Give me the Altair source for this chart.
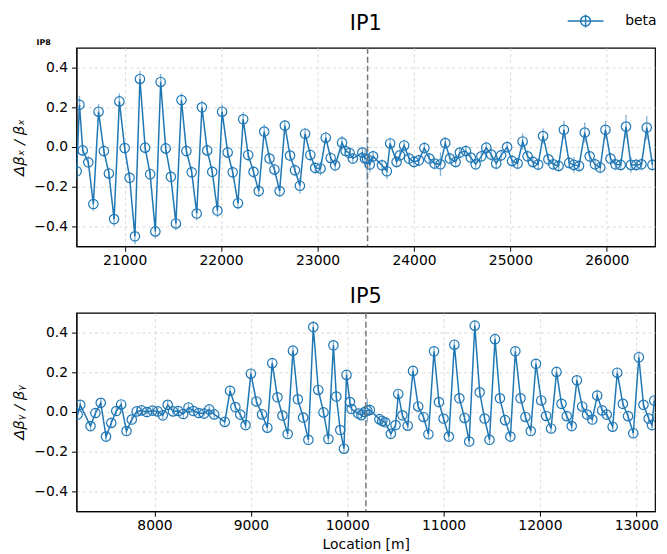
import altair as alt
import pandas as pd

BLUE = "#1f77b4"

# ---------------- IP1 (top panel) ----------------
ip1_s = [20502, 20531, 20565, 20623, 20675, 20729, 20784, 20836, 20890, 20945,
         21000, 21051, 21106, 21158, 21212, 21264, 21318, 21373, 21425, 21479,
         21531, 21589, 21640, 21695, 21747, 21801, 21856, 21908, 21962, 22010,
         22068, 22120, 22175, 22229, 22281, 22336, 22390, 22447, 22502, 22553,
         22607, 22661, 22715, 22766, 22817, 22871, 22925, 22976, 23031, 23085,
         23136, 23183, 23254, 23292, 23332, 23366, 23464, 23492, 23514, 23542,
         23576, 23668, 23719, 23753, 23820, 23854, 23898, 23949, 24000, 24051,
         24108, 24159, 24214, 24275, 24325, 24373, 24432, 24476, 24538, 24589,
         24640, 24699, 24750, 24801, 24853, 24904, 24966, 25017, 25075, 25127,
         25178, 25233, 25288, 25339, 25394, 25445, 25500, 25555, 25610, 25658,
         25712, 25771, 25822, 25877, 25932, 25986, 26038, 26089, 26144, 26199,
         26250, 26305, 26360, 26414, 26473]
ip1_beat = [-0.122, 0.213, -0.017, -0.077, -0.287, 0.178, -0.020, -0.133, -0.363, 0.230,
            -0.005, -0.155, -0.450, 0.343, -0.003, -0.137, -0.425, 0.328, -0.007, -0.150,
            -0.385, 0.237, -0.020, -0.127, -0.335, 0.200, -0.017, -0.125, -0.320, 0.178,
            -0.027, -0.127, -0.283, 0.140, -0.040, -0.125, -0.222, 0.078, -0.058, -0.113,
            -0.222, 0.108, -0.043, -0.117, -0.195, 0.067, -0.040, -0.105, -0.108, 0.047,
            -0.055, -0.092, 0.022, -0.020, -0.030, -0.058, -0.028, -0.058, -0.060, -0.088,
            -0.047, -0.092, -0.122, 0.018, -0.075, -0.042, 0.008, -0.058, -0.075, -0.067,
            -0.005, -0.058, -0.083, -0.087, 0.020, -0.058, -0.075, -0.028, -0.020, -0.053,
            -0.087, -0.047, -0.003, -0.038, -0.083, -0.042, 0.000, -0.070, -0.083, 0.028,
            -0.047, -0.075, -0.088, 0.055, -0.062, -0.087, -0.095, 0.087, -0.080, -0.090,
            -0.095, 0.073, -0.047, -0.087, -0.103, 0.087, -0.058, -0.087, -0.090, 0.103,
            -0.090, -0.090, -0.087, 0.098, -0.090]
ip1_err = [0.04, 0.045, 0.03, 0.03, 0.035, 0.04, 0.03, 0.03, 0.035, 0.04,
           0.03, 0.03, 0.04, 0.04, 0.03, 0.03, 0.035, 0.04, 0.03, 0.03,
           0.035, 0.035, 0.03, 0.03, 0.035, 0.035, 0.03, 0.03, 0.035, 0.035,
           0.03, 0.03, 0.03, 0.035, 0.03, 0.03, 0.03, 0.035, 0.03, 0.03,
           0.03, 0.03, 0.03, 0.03, 0.04, 0.03, 0.03, 0.03, 0.035, 0.03,
           0.03, 0.03, 0.035, 0.025, 0.025, 0.025, 0.03, 0.04, 0.11, 0.04,
           0.03, 0.03, 0.04, 0.03, 0.03, 0.03, 0.03, 0.03, 0.03, 0.03,
           0.03, 0.03, 0.03, 0.06, 0.03, 0.03, 0.03, 0.03, 0.03, 0.03,
           0.03, 0.03, 0.03, 0.03, 0.03, 0.03, 0.03, 0.03, 0.03, 0.04,
           0.03, 0.03, 0.03, 0.04, 0.03, 0.03, 0.03, 0.045, 0.03, 0.04,
           0.03, 0.05, 0.03, 0.03, 0.03, 0.045, 0.03, 0.03, 0.03, 0.06,
           0.04, 0.03, 0.03, 0.06, 0.03]

# ---------------- IP5 (bottom panel) ----------------
ip5_s = [7202, 7229, 7336, 7387, 7442, 7497, 7551, 7603, 7654, 7709,
         7764, 7815, 7866, 7921, 7979, 8034, 8086, 8137, 8192, 8247,
         8298, 8353, 8404, 8459, 8514, 8568, 8620, 8729, 8784, 8839,
         8890, 8945, 9000, 9058, 9116, 9171, 9222, 9276, 9328, 9382,
         9437, 9488, 9543, 9597, 9648, 9700, 9754, 9805, 9857, 9887,
         9928, 9966, 9993, 10028, 10045, 10115, 10148, 10180, 10208, 10235,
         10334, 10364, 10394, 10453, 10502, 10530, 10573, 10628, 10683, 10737,
         10792, 10843, 10901, 10952, 11000, 11055, 11112, 11164, 11218, 11266,
         11324, 11375, 11426, 11477, 11534, 11585, 11639, 11694, 11745, 11799,
         11850, 11905, 11959, 12014, 12065, 12116, 12173, 12224, 12279, 12330,
         12384, 12439, 12490, 12544, 12595, 12646, 12694, 12755, 12803, 12861,
         12915, 12969, 13027, 13075, 13129, 13163, 13187]
ip5_beat = [-0.013, 0.036, -0.071, -0.005, 0.046, -0.124, -0.055, 0.005, 0.038, -0.096,
            -0.038, 0.003, 0.008, 0.000, 0.007, 0.003, -0.017, 0.036, 0.003, 0.005,
            -0.010, 0.023, 0.005, -0.005, -0.008, 0.013, -0.012, -0.050, 0.107, 0.025,
            -0.013, -0.066, 0.193, 0.053, -0.012, -0.079, 0.246, 0.074, -0.018, -0.111,
            0.309, 0.064, -0.028, -0.140, 0.428, 0.111, -0.002, -0.136, 0.336, 0.078,
            -0.091, -0.185, 0.187, 0.050, 0.015, -0.008, -0.016, 0.000, 0.008, 0.010,
            -0.036, -0.045, -0.052, -0.110, -0.066, 0.091, -0.017, -0.069, 0.207, 0.028,
            -0.025, -0.112, 0.306, 0.050, -0.033, -0.124, 0.339, 0.069, -0.030, -0.149,
            0.435, 0.099, -0.033, -0.140, 0.367, 0.069, -0.041, -0.124, 0.306, 0.069,
            -0.025, -0.096, 0.243, 0.058, -0.020, -0.083, 0.202, 0.041, -0.021, -0.071,
            0.160, 0.028, -0.013, -0.038, 0.083, 0.008, -0.013, -0.074, 0.198, 0.041,
            -0.021, -0.107, 0.276, 0.036, -0.033, -0.066, 0.058]
ip5_err = [0.02, 0.02, 0.025, 0.02, 0.025, 0.025, 0.02, 0.02, 0.02, 0.025,
           0.02, 0.02, 0.02, 0.02, 0.02, 0.02, 0.02, 0.025, 0.02, 0.02,
           0.02, 0.025, 0.02, 0.02, 0.02, 0.02, 0.02, 0.02, 0.025, 0.02,
           0.02, 0.02, 0.025, 0.02, 0.02, 0.02, 0.025, 0.02, 0.02, 0.02,
           0.025, 0.02, 0.02, 0.02, 0.03, 0.02, 0.02, 0.02, 0.025, 0.02,
           0.02, 0.02, 0.025, 0.02, 0.02, 0.02, 0.02, 0.03, 0.06, 0.03,
           0.02, 0.02, 0.02, 0.02, 0.02, 0.02, 0.02, 0.02, 0.025, 0.02,
           0.02, 0.02, 0.025, 0.02, 0.02, 0.02, 0.025, 0.02, 0.02, 0.02,
           0.03, 0.02, 0.02, 0.02, 0.025, 0.02, 0.02, 0.02, 0.025, 0.02,
           0.02, 0.02, 0.025, 0.02, 0.02, 0.02, 0.025, 0.02, 0.02, 0.02,
           0.025, 0.02, 0.02, 0.02, 0.03, 0.02, 0.02, 0.02, 0.025, 0.02,
           0.02, 0.02, 0.03, 0.02, 0.02, 0.02, 0.02]

ip1_loc = 23519
ip5_loc = 10194
y_ticks = [-0.4, -0.2, 0.0, 0.2, 0.4]

PW, PH = 583, 200

# legend glyph: horizontal line, open circle and vertical error bar
LEGEND_PATH = ("M-1.8,0H1.8 M-0.5,0A0.5,0.5 0 1,1 0.5,0A0.5,0.5 0 1,1 -0.5,0 "
               "M0,-0.65V0.65")


def panel(s, b, e, ip, domain, xticks, title, ytitle, xtitle, legend, xlabpad):
    df = pd.DataFrame({"s": s, "b": b, "e": e})
    df["lo"] = df["b"] - df["e"]
    df["hi"] = df["b"] + df["e"]
    df["series"] = "beta"

    xs = alt.Scale(domain=domain, nice=False, zero=False)
    ys = alt.Scale(domain=[-0.5, 0.5], nice=False)
    xax = alt.Axis(values=xticks, format="d", title=xtitle, grid=True,
                   labelFlush=False, labelPadding=xlabpad, titlePadding=6)
    yax = alt.Axis(values=y_ticks, format=".1f", title=ytitle, grid=True,
                   labelPadding=4, titlePadding=7)

    base = alt.Chart(df)
    line = base.mark_line(color=BLUE, strokeWidth=1.5, clip=True).encode(
        x=alt.X("s:Q", scale=xs, axis=xax),
        y=alt.Y("b:Q", scale=ys, axis=yax),
    )
    bars = base.mark_rule(color=BLUE, strokeWidth=1.3, opacity=0.55, clip=True).encode(
        x="s:Q", y="lo:Q", y2="hi:Q"
    )
    if legend:
        col = alt.Color("series:N", scale=alt.Scale(range=[BLUE]),
                        legend=alt.Legend(title=None, orient="none",
                                          legendX=502, legendY=-38, padding=0,
                                          symbolType=LEGEND_PATH, symbolSize=400,
                                          symbolStrokeWidth=1.4,
                                          symbolFillColor="transparent",
                                          labelFontSize=14, labelOffset=29,
                                          labelFont="DejaVu Sans"))
    else:
        col = alt.value(BLUE)
    pts = base.mark_point(shape="circle", filled=False, size=90, strokeWidth=1.2,
                          opacity=1, clip=True).encode(
        x="s:Q", y="b:Q", color=col
    )
    vline = alt.Chart(pd.DataFrame({"ip": [ip]})).mark_rule(
        color="#777777", strokeDash=[6, 3], strokeWidth=1.5
    ).encode(x="ip:Q")
    layers = [line, bars, pts, vline]
    return alt.layer(*layers).properties(
        width=PW, height=PH,
        title=alt.TitleParams(title, fontSize=21, fontWeight="normal",
                              font="DejaVu Sans", offset=5, color="black"),
    )


top = panel(ip1_s, ip1_beat, ip1_err, ip1_loc, [20500, 26500],
            [21000, 22000, 23000, 24000, 25000, 26000], "IP1",
            "Δβₓ / βₓ", None, True, 2)
note = alt.Chart(pd.DataFrame({"t": ["IP8"]})).mark_text(
    fontSize=8, fontWeight="bold", font="DejaVu Sans", color="black"
).encode(x=alt.value(-33), y=alt.value(-5), text="t:N")
top = alt.layer(top, note)

bottom = panel(ip5_s, ip5_beat, ip5_err, ip5_loc, [7190, 13195],
               [8000, 9000, 10000, 11000, 12000, 13000], "IP5",
               "Δβᵧ / βᵧ", "Location [m]", False, 2)

chart = alt.vconcat(top, bottom, spacing=17).properties(
    padding={"left": 3, "top": 0, "right": 0, "bottom": 0}
).configure_view(
    stroke="black", strokeWidth=1.2
).configure_axis(
    labelFont="DejaVu Sans", labelFontSize=14, labelColor="black",
    titleFont="DejaVu Sans", titleFontSize=15, titleFontWeight="normal",
    titleColor="black", titleFontStyle="italic",
    domainColor="black", tickColor="black", tickSize=5,
    gridColor="#cfcfcf", gridDash=[3, 3], gridWidth=0.8,
).configure_axisX(titleFontStyle="normal", titleFontSize=14)

chart.save("out.html", embed_options={"renderer": "svg", "actions": False})
